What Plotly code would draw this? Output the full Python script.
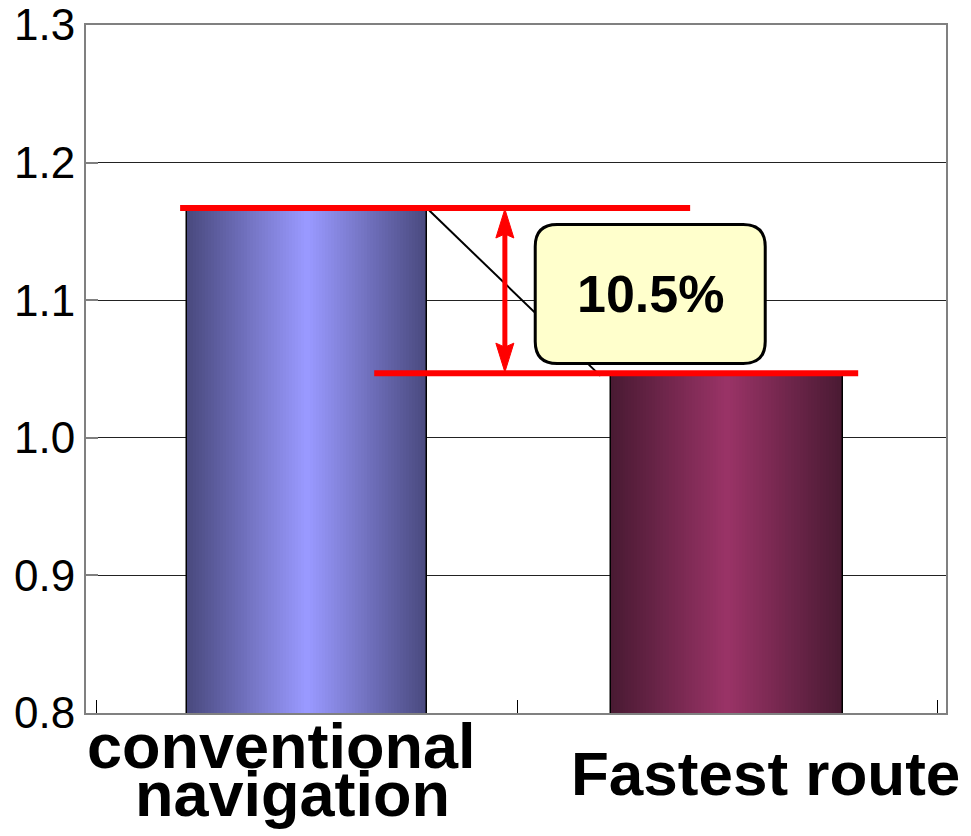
import plotly.graph_objects as go

# ---- data ----
categories = ["conventional navigation", "Fastest route"]
values = [1.167, 1.047]
label_lines = [["conventional", "navigation"], ["Fastest route"]]
y_tick_values = [0.8, 0.9, 1.0, 1.1, 1.2, 1.3]
reduction_label = "10.5%"

# ---- styles ----
FONT = "Liberation Sans, Arial, Helvetica, sans-serif"
bar_widths = [0.57, 0.553]
edge_colors = [(0x4A, 0x4A, 0x7F), (0x4A, 0x1A, 0x33)]
center_colors = [(0x99, 0x99, 0xFF), (0x99, 0x33, 0x66)]
N_LAYERS = 40


def lerp(c0, c1, t):
    return "rgb(%d,%d,%d)" % tuple(round(a + (b - a) * t) for a, b in zip(c0, c1))


fig = go.Figure()
idx = list(range(len(categories)))
for k in range(N_LAYERS):
    t = k / (N_LAYERS - 1)
    fig.add_trace(go.Bar(
        x=categories,
        y=values,
        width=[w * (1 - k / N_LAYERS) for w in bar_widths],
        marker=dict(
            color=[lerp(edge_colors[i], center_colors[i], t) for i in idx],
            line=dict(color="black", width=1.5 if k == 0 else 0),
        ),
        hoverinfo="skip",
        showlegend=False,
    ))

v1, v2 = values
x_arrow = 0.471
callout_x, callout_y = 0.817, 1.1045
head_gap = 0.015  # shaft stops inside arrowheads

hw, hh, r = 115, 69.5, 22
callout_path = (
    f"M {-hw + r},{-hh} L {hw - r},{-hh} Q {hw},{-hh} {hw},{-hh + r} "
    f"L {hw},{hh - r} Q {hw},{hh} {hw - r},{hh} L {-hw + r},{hh} "
    f"Q {-hw},{hh} {-hw},{hh - r} L {-hw},{-hh + r} Q {-hw},{-hh} {-hw + r},{-hh} Z"
)

shapes = [
    # connector line from top of bar 1 to top of bar 2
    dict(type="line", xref="x", yref="y",
         x0=0 + bar_widths[0] / 2, y0=v1, x1=1 - bar_widths[1] / 2 - 0.025, y1=v2 - 0.002,
         line=dict(color="black", width=2), layer="above"),
    # red level lines
    dict(type="line", xref="x", yref="y", x0=-0.302, x1=0.912, y0=v1, y1=v1,
         line=dict(color="#FF0000", width=6), layer="above"),
    dict(type="line", xref="x", yref="y", x0=0.16, x1=1.312, y0=v2, y1=v2,
         line=dict(color="#FF0000", width=6), layer="above"),
    # double arrow: shaft + heads
    dict(type="line", xref="x", yref="y", x0=x_arrow, x1=x_arrow,
         y0=v1 - head_gap, y1=v2 + head_gap,
         line=dict(color="#FF0000", width=5), layer="above"),
    dict(type="path", xref="x", yref="y", xsizemode="pixel", ysizemode="pixel",
         xanchor=x_arrow, yanchor=v1, path="M 0,-1 L -9,-30 L 0,-26 L 9,-30 Z",
         fillcolor="#FF0000", line=dict(color="#FF0000", width=1), layer="above"),
    dict(type="path", xref="x", yref="y", xsizemode="pixel", ysizemode="pixel",
         xanchor=x_arrow, yanchor=v2, path="M 0,1 L -9,30 L 0,26 L 9,30 Z",
         fillcolor="#FF0000", line=dict(color="#FF0000", width=1), layer="above"),
    # rounded callout box
    dict(type="path", xref="x", yref="y", xsizemode="pixel", ysizemode="pixel",
         xanchor=callout_x, yanchor=callout_y, path=callout_path,
         fillcolor="#FFFFCC", line=dict(color="black", width=3), layer="above"),
]

annotations = [
    dict(x=callout_x, y=callout_y, xref="x", yref="y", text=f"<b>{reduction_label}</b>",
         showarrow=False, font=dict(family=FONT, size=52, color="black")),
]

# category labels (two separate lines for tight line spacing)
label_specs = [
    (0, label_lines[0][0], -25, -33, 63),
    (0, label_lines[0][1], -14, -81, 63),
    (1, label_lines[1][0], 38, -60, 62),
]
for ci, txt, xs, ys, fs in label_specs:
    annotations.append(dict(
        x=ci, y=0, xref="x", yref="paper", text=f"<b>{txt}</b>", showarrow=False,
        xanchor="center", yanchor="middle", xshift=xs, yshift=ys,
        font=dict(family=FONT, size=fs, color="black"),
    ))

fig.update_layout(
    width=971, height=836,
    margin=dict(l=86, r=25, t=25, b=123, autoexpand=False),
    paper_bgcolor="white", plot_bgcolor="white",
    barmode="overlay", bargap=0,
    shapes=shapes, annotations=annotations,
    font=dict(family=FONT, color="black"),
    xaxis=dict(
        type="category", range=[-0.526, 1.521], automargin=False,
        showticklabels=False, showgrid=False,
        ticks="inside", tickson="boundaries", ticklen=13, tickcolor="black", tickwidth=1,
        showline=True, mirror=True, linecolor="#808080", linewidth=2,
    ),
    yaxis=dict(
        range=[0.8, 1.3], tickvals=y_tick_values, tickformat=".1f", automargin=False,
        tickfont=dict(family=FONT, size=44, color="black"),
        ticks="inside", ticklen=12, tickcolor="#808080", tickwidth=1.5,
        showgrid=True, gridcolor="#222222", gridwidth=1,
        showline=True, mirror=True, linecolor="#808080", linewidth=2,
        zeroline=False, ticklabelstandoff=0,
    ),
)

fig.write_html("out.html")
